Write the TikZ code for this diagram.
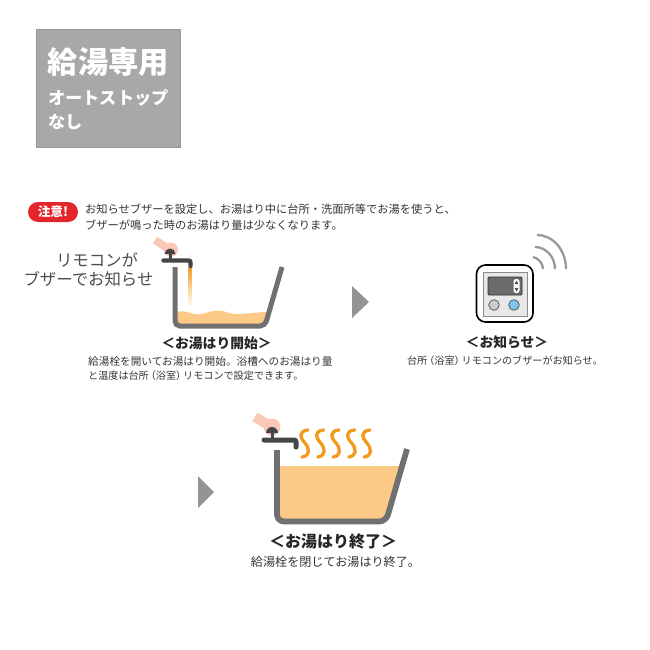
\documentclass[tikz,border=0pt]{standalone}
\usepackage{fontspec}
\setmainfont{Noto Sans CJK JP}
\usepackage{tikz}
\definecolor{panel}{HTML}{A8A8A8}
\definecolor{tub}{HTML}{707070}
\definecolor{water}{HTML}{FDC987}
\definecolor{hot}{HTML}{F39A1E}
\definecolor{skin}{HTML}{F9C8B8}
\definecolor{tap}{HTML}{454545}
\definecolor{alert}{HTML}{E3262B}
\definecolor{bluebtn}{HTML}{7DC6F0}
\newcommand{\yokushitsu}{\kern-3pt（浴室）\kern-3pt}
\tikzset{
  caption/.style={inner sep=0pt,font=\bfseries\fontsize{13.8}{14}\selectfont,text=black!85},
  desc/.style={inner sep=0pt,anchor=west,font=\fontsize{10.1}{12}\selectfont,text=black!80},
  head/.style={inner sep=0pt,anchor=west,font=\bfseries,text=white},
  next/.style={fill=black!42,draw=none},
  tubline/.style={draw=tub,line width=5pt,rounded corners=5pt},
  wave/.style={draw=black!40,line width=2.3pt}
}
\begin{document}
\begin{tikzpicture}[x=1pt,y=-1pt]
\useasboundingbox (0,0) rectangle (650,650);
% title panel
\fill[panel,draw=black!40,line width=0.5pt] (36,29) rectangle (180,147);
\node[head,font=\bfseries\fontsize{30.3}{31}\selectfont] (title) at (47.5,62) {給湯専用};
\node[head,font=\bfseries\fontsize{17.2}{18}\selectfont] (stop) at (48,98) {オートストップ};
\node[head,font=\bfseries\fontsize{17.2}{18}\selectfont] (none) at (48,122) {なし};
% notice
\fill[alert,rounded corners=10pt] (28,202) rectangle (78,222);
\node[inner sep=0pt,text=white,font=\bfseries\fontsize{12.6}{13}\selectfont] (alertmark) at (53,212) {注意!};
\node[desc,font=\fontsize{11.25}{12}\selectfont] (note1) at (85,209) {お知らせブザーを設定し、お湯はり中に台所・洗面所等でお湯を使うと、};
\node[desc,font=\fontsize{11.25}{12}\selectfont] (note2) at (85,225) {ブザーが鳴った時のお湯はり量は少なくなります。};
\node[inner sep=0pt,text=black!70,font=\fontsize{16.4}{18}\selectfont] (remo1) at (97,260) {リモコンが};
\node[inner sep=0pt,text=black!70,font=\fontsize{16.4}{18}\selectfont] (remo2) at (88.5,279) {ブザーでお知らせ};
% first tub
\fill[water] (177,312) .. controls (186,309) and (192,316) .. (202,314) .. controls (212,311) and (218,309) .. (226,312) .. controls (236,316) and (244,313) .. (267,312) -- (264,325) -- (177,325) -- cycle;
\shade[top color=hot,bottom color=white] (188.5,267) rectangle (191.5,306);
\draw[tubline] (175,267) -- (175,326) -- (265,326) -- (282,267);
\draw[skin,line width=8pt] (155,240) -- (167,248);
\fill[skin] (171,249.5) circle (7pt);
\fill[tap] (164.5,254) arc[start angle=180,end angle=0,radius=5.5pt] -- cycle;
\draw[tap,line width=3pt] (170,253) -- (170,260);
\draw[tap,line width=4.4pt,line cap=round,rounded corners=2pt] (163.5,260.5) -- (190.5,260.5) -- (190.5,266);
\node[caption] (start) at (216.5,343) {＜お湯はり開始＞};
\node[desc,font=\fontsize{10.65}{12}\selectfont] (startd1) at (88,361) {給湯栓を開いてお湯はり開始。浴槽へのお湯はり量};
\node[desc] (startd2) at (88,376) {と温度は台所\yokushitsu リモコンで設定できます。};
% arrows
\fill[next] (352,286) -- (369,302) -- (352,318) -- cycle;
\fill[next] (198,476) -- (214,492) -- (198,508) -- cycle;
% remote
\draw[black,line width=1.6pt,fill=white,rounded corners=9pt] (476.5,265) rectangle (533,322);
\draw[black!45,line width=0.8pt,fill=black!9] (483,272) rectangle (527,316);
\draw[black!80,line width=0.8pt,fill=black!58,rounded corners=1pt] (488,277) rectangle (522,295);
\fill[white,rounded corners=2.5pt] (513.5,279) rectangle (519.5,293);
\fill[black!70] (516.5,280.5) -- (518.3,284) -- (514.7,284) -- cycle;
\fill[black!70] (516.5,291.5) -- (518.3,288) -- (514.7,288) -- cycle;
\draw[black!70,line width=0.7pt,fill=black!20] (494,305) circle (5.3pt);
\draw[black!70,line width=0.7pt,fill=bluebtn] (514,305) circle (5.3pt);
\draw[wave] (537,235) .. controls (553,235) and (566,250) .. (566,269);
\draw[wave] (535,247) .. controls (546,247) and (555,257) .. (555,269);
\draw[wave] (533,257) .. controls (538,258) and (543,263) .. (543,269);
\node[caption] (inform) at (507,342) {＜お知らせ＞};
\node[desc,anchor=center,font=\fontsize{10.1}{12}\selectfont] (informd) at (505,361) {台所\yokushitsu リモコンのブザーがお知らせ。};
% second tub
\fill[water] (279,466) -- (399.5,466) -- (385,520) -- (279,520) -- cycle;
\draw[tubline,line width=5.8pt,rounded corners=7pt] (277,450) -- (277,521.5) -- (386,521.5) -- (407,449);
\draw[skin,line width=10pt] (255,417) -- (267,424);
\fill[skin] (272,427) circle (8.5pt);
\fill[tap] (266,433) arc[start angle=180,end angle=0,radius=6pt] -- cycle;
\draw[tap,line width=3pt] (272,432) -- (272,439);
\draw[tap,line width=5pt,line cap=round,rounded corners=2pt] (264,440) -- (296,440) -- (296,447);
\foreach \x in {305,320.7,336,351.7,367}
  \draw[hot,line width=3.3pt,line cap=round] (\x+3,430) .. controls (\x-7,431) and (\x-5,438) .. (\x,443) .. controls (\x+5,449) and (\x+5,456) .. (\x-3,457);
\node[caption,font=\bfseries\fontsize{16}{17}\selectfont] (finish) at (333,542) {＜お湯はり終了＞};
\node[desc,anchor=center,font=\fontsize{12.1}{13}\selectfont] (finishd) at (335.5,562) {給湯栓を閉じてお湯はり終了。};
\end{tikzpicture}
\end{document}
